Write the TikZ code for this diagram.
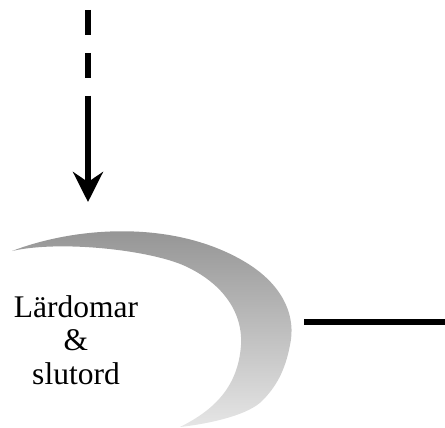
\documentclass[tikz,border=0pt]{standalone}
\usepackage{fontspec}
\setmainfont{Liberation Serif}
\usepackage{tikz}
\usetikzlibrary{arrows.meta}
\definecolor{moontop}{gray}{0.57}
\definecolor{moonbottom}{gray}{0.90}

\begin{document}
\begin{tikzpicture}[
  x=1pt, y=-1pt,
  moon/.style={top color=moontop, bottom color=moonbottom},
  lesson/.style={align=center, inner sep=0pt, font=\fontsize{31.5}{33.5}\selectfont},
  arrow/.style={-{Stealth[length=30pt, width=30pt, inset=10pt]}, line width=6pt},
  dashline/.style={line width=6pt, dash pattern=on 25pt off 18pt},
  link/.style={line width=6pt}
]
  \useasboundingbox (0,0) rectangle (445,428);
  % crescent: outer rim down to the lower tip, inner rim back up
  \shade[moon] (12,251) .. controls (80,225) and (180,220) .. (250,265)
    .. controls (285,288) and (296,318) .. (290,345)
    .. controls (285,372) and (275,388) .. (262,401)
    .. controls (249,414) and (215,423) .. (180,427)
    .. controls (210,412) and (238,390) .. (241,345)
    .. controls (243,310) and (220,282) .. (185,266)
    .. controls (150,250) and (60,240) .. (12,251) -- cycle;
  \node[lesson] (lesson) at (76,340) {Lärdomar\\\&\\slutord};
  \coordinate (src) at (88,10);
  \coordinate (bend) at (88,96);
  \coordinate (tip) at (88,202);
  \coordinate (out) at (304,322);
  \coordinate (far) at (445,322);
  \draw[dashline] (src) -- (bend);
  \draw[arrow] (bend) -- (tip);
  \draw[link] (out) -- (far);
\end{tikzpicture}
\end{document}
